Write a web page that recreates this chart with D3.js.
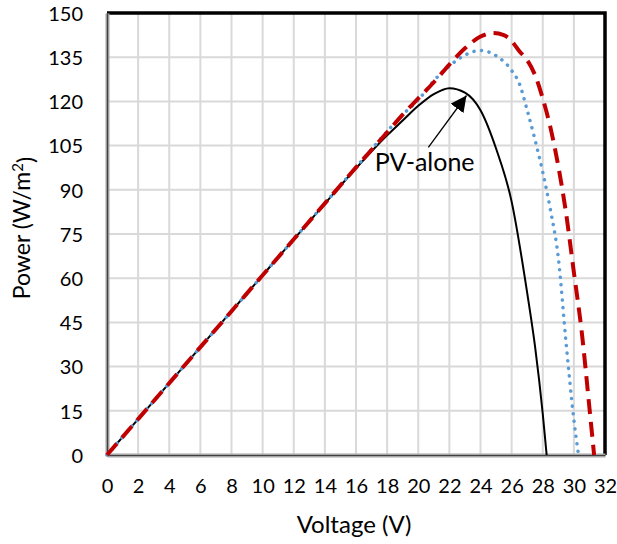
<!DOCTYPE html>
<html>
<head>
<meta charset="utf-8">
<script src="https://cdn.jsdelivr.net/npm/d3@7"></script>
<style>
  body { margin: 0; background: #fff; }
  text { font-family: Lato, "Open Sans", sans-serif; fill: #000; }
</style>
</head>
<body>
<div id="fig"></div>
<script>
// PV-alone (black solid)
var voltBlack = [0, 2, 4, 6, 8, 10, 12, 14, 16, 18, 19, 20, 21, 22, 23, 24, 25, 26, 27, 27.5, 28, 28.25];
var powBlack  = [0, 12.2, 24.4, 36.6, 48.8, 61, 73.2, 85.3, 97.3, 108.5, 113.5, 118.5, 122.5, 124.5, 123, 117, 104, 86, 55, 37, 14, 0];

// blue dotted
var voltBlue = [0, 2, 4, 6, 8, 10, 12, 14, 16, 18, 19, 20, 21, 22, 23, 24, 25, 26, 26.5, 27, 27.5, 28, 28.5, 29, 29.5, 30, 30.3];
var powBlue  = [0, 12.2, 24.4, 36.6, 48.8, 61, 73.2, 85.4, 97.6, 109.8, 115.5, 120.5, 127, 132, 135.7, 137.3, 135.5, 130.5, 126, 117, 107, 96, 83, 67, 38, 12, 0];

// red dashed
var voltRed = [0, 2, 4, 6, 8, 10, 12, 14, 16, 18, 19, 20, 21, 22, 23, 24, 24.8, 25.5, 26, 26.5, 27, 27.5, 28, 28.5, 29, 29.5, 30, 30.5, 31, 31.3];
var powRed  = [0, 12.2, 24.4, 36.6, 48.8, 61, 73.2, 85.4, 97.6, 109.5, 115.5, 121, 126.5, 132.5, 138, 142, 143.2, 142.5, 140.5, 137, 134, 129, 121, 111, 98, 82, 62, 42, 16, 0];

var xTicks = d3.range(0, 33, 2);
var yTicks = d3.range(0, 151, 15);

var margin = { top: 13, right: 12, bottom: 89, left: 107 };
var width = 617 - margin.left - margin.right;
var height = 544 - margin.top - margin.bottom;

var x = d3.scaleLinear().domain([0, 32]).range([0, width]);
var y = d3.scaleLinear().domain([0, 150]).range([height, 0]);

var svg = d3.select("#fig").append("svg")
    .attr("width", 617)
    .attr("height", 544);

var defs = svg.append("defs");
defs.append("marker")
    .attr("id", "arrow")
    .attr("viewBox", "0 0 10 10")
    .attr("refX", 10).attr("refY", 5)
    .attr("markerWidth", 16).attr("markerHeight", 16)
    .attr("markerUnits", "userSpaceOnUse")
    .attr("orient", "auto")
    .append("path")
    .attr("d", "M0,0 L10,5 L0,10 z")
    .attr("fill", "#000");

var fig = svg.append("g")
    .attr("transform", "translate(" + margin.left + "," + margin.top + ")");

// grid
fig.selectAll(".vgrid").data(xTicks).enter().append("line")
    .attr("x1", d => x(d)).attr("x2", d => x(d))
    .attr("y1", 0).attr("y2", height)
    .attr("stroke", "#d9d9d9").attr("stroke-width", 2);
fig.selectAll(".hgrid").data(yTicks).enter().append("line")
    .attr("x1", 0).attr("x2", width)
    .attr("y1", d => y(d)).attr("y2", d => y(d))
    .attr("stroke", "#d9d9d9").attr("stroke-width", 2);

// top / right border
fig.append("path")
    .attr("d", "M0,0 H" + width + " V" + height)
    .attr("fill", "none").attr("stroke", "#000").attr("stroke-width", 3.5);

// axes
var xAxis = fig.append("g")
    .attr("transform", "translate(0," + height + ")")
    .call(d3.axisBottom(x).tickValues(xTicks).tickSize(0).tickPadding(24));
var yAxis = fig.append("g")
    .call(d3.axisLeft(y).tickValues(yTicks).tickSize(0).tickPadding(24));

[xAxis, yAxis].forEach(function (a) {
    a.select(".domain").attr("stroke", "#a6a6a6").attr("stroke-width", 4);
    a.append("path")
        .attr("d", a.select(".domain").attr("d"))
        .attr("stroke", "#404040").attr("stroke-width", 1.2).attr("fill", "none");
    a.selectAll("text").style("font-size", "20px").attr("fill", "#000");
});
yAxis.selectAll("text").attr("dy", "0.36em");

// curves
var line = d3.line()
    .x(d => x(d[0]))
    .y(d => y(d[1]))
    .curve(d3.curveMonotoneX);

fig.append("path")
    .datum(d3.zip(voltBlack, powBlack))
    .attr("d", line)
    .attr("fill", "none").attr("stroke", "#000").attr("stroke-width", 2);

fig.append("path")
    .datum(d3.zip(voltBlue, powBlue))
    .attr("d", line)
    .attr("fill", "none").attr("stroke", "#5b9bd5").attr("stroke-width", 3.5)
    .attr("stroke-linecap", "round")
    .attr("stroke-dasharray", "0.1,7.5");

fig.append("path")
    .datum(d3.zip(voltRed, powRed))
    .attr("d", line)
    .attr("fill", "none").attr("stroke", "#c00000").attr("stroke-width", 4)
    .attr("stroke-dasharray", "15,8");

// annotation
fig.append("line")
    .attr("x1", x(20.65)).attr("y1", y(104.4))
    .attr("x2", x(23.1)).attr("y2", y(122))
    .attr("stroke", "#000").attr("stroke-width", 1.3)
    .attr("marker-end", "url(#arrow)");

fig.append("text")
    .attr("x", x(17.2)).attr("y", y(96.5))
    .style("font-size", "25px")
    .text("PV-alone");

// axis titles
svg.append("text")
    .attr("text-anchor", "middle")
    .attr("x", margin.left + width / 2 - 2)
    .attr("y", 533)
    .style("font-size", "24px")
    .text("Voltage (V)");

var yt = svg.append("text")
    .attr("text-anchor", "middle")
    .attr("transform", "translate(30,228) rotate(-90)")
    .style("font-size", "23px");
yt.append("tspan").text("Power (W/m");
yt.append("tspan").attr("dy", "-0.45em").style("font-size", "15px").text("2");
yt.append("tspan").attr("dy", "0.45em").text(")");
</script>
</body>
</html>
